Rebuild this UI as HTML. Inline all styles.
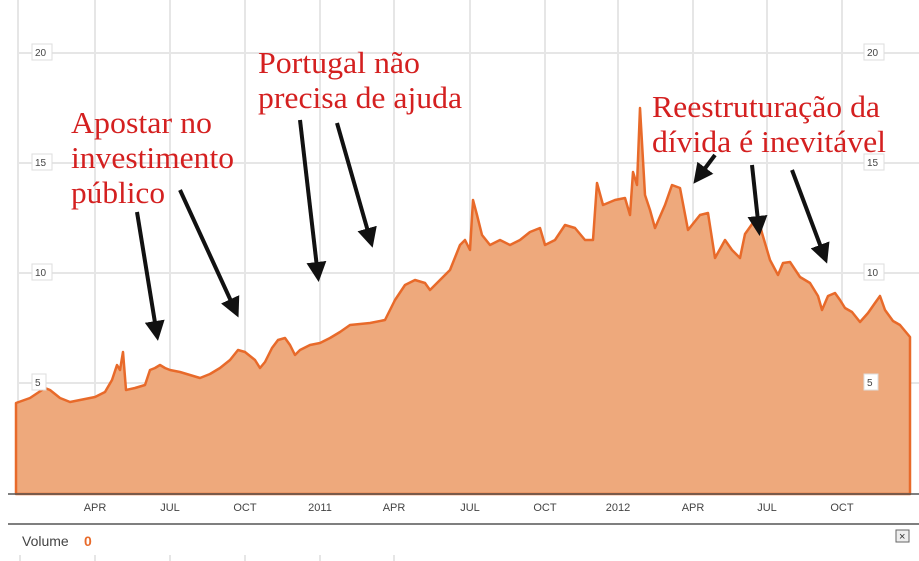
<!DOCTYPE html>
<html><head><meta charset="utf-8"><style>
html,body{margin:0;padding:0;background:#fff;}
svg{display:block;}
</style></head><body>
<svg width="919" height="561" xmlns="http://www.w3.org/2000/svg">
<defs><marker id="ah" markerWidth="5" markerHeight="5" refX="3.5" refY="2.5" orient="auto" markerUnits="strokeWidth"><path d="M0,0 L5,2.5 L0,5 z" fill="#111"/></marker></defs>
<g stroke="#e6e6e6" stroke-width="2">
<line x1="18" y1="53" x2="919" y2="53"/><line x1="18" y1="163" x2="919" y2="163"/><line x1="18" y1="273" x2="919" y2="273"/><line x1="18" y1="383" x2="919" y2="383"/>
<line x1="18" y1="0" x2="18" y2="494"/><line x1="95" y1="0" x2="95" y2="494"/><line x1="170" y1="0" x2="170" y2="494"/><line x1="245" y1="0" x2="245" y2="494"/><line x1="320" y1="0" x2="320" y2="494"/><line x1="394" y1="0" x2="394" y2="494"/><line x1="470" y1="0" x2="470" y2="494"/><line x1="545" y1="0" x2="545" y2="494"/><line x1="618" y1="0" x2="618" y2="494"/><line x1="693" y1="0" x2="693" y2="494"/><line x1="767" y1="0" x2="767" y2="494"/><line x1="842" y1="0" x2="842" y2="494"/>
</g>
<path d="M16,403 L30,398 L45,388 L50,390 L60,398 L70,402 L80,400 L95,397 L105,392 L112,380 L117,365 L120,370 L123,352 L126,390 L135,388 L145,385 L150,370 L155,368 L160,365 L165,368 L170,370 L180,372 L190,375 L200,378 L210,374 L220,368 L230,360 L238,350 L245,352 L255,360 L260,368 L265,362 L272,348 L278,340 L285,338 L290,345 L295,355 L300,350 L310,345 L320,343 L330,338 L340,332 L350,325 L360,324 L370,323 L385,320 L395,300 L405,285 L415,280 L425,283 L430,290 L440,280 L450,270 L460,245 L465,240 L470,250 L473,200 L477,215 L482,235 L490,245 L500,240 L510,245 L520,240 L530,232 L540,228 L545,245 L555,240 L565,225 L575,228 L585,240 L593,240 L597,183 L603,205 L615,200 L625,198 L630,215 L633,172 L637,185 L640,108 L645,195 L650,210 L655,228 L665,205 L672,185 L680,188 L688,230 L700,215 L708,213 L715,258 L725,240 L732,250 L740,258 L745,234 L755,220 L760,225 L762,233 L770,260 L778,275 L783,263 L790,262 L800,277 L810,283 L818,296 L822,310 L828,296 L835,293 L840,300 L845,308 L852,312 L860,322 L868,313 L875,303 L880,296 L885,310 L893,321 L900,325 L910,337 L910,494 L16,494 Z" fill="#eea97c" stroke="#e86a2a" stroke-width="2.5" stroke-linejoin="round"/>
<line x1="8" y1="494" x2="919" y2="494" stroke="#555" stroke-width="1.5"/>
<line x1="8" y1="524" x2="919" y2="524" stroke="#555" stroke-width="1.5"/>
<g font-family="Liberation Sans, sans-serif" font-size="10" fill="#444">
<rect x="32" y="44" width="20" height="16" fill="#fff" stroke="#ddd"/><text x="35" y="56">20</text>
<rect x="32" y="154" width="20" height="16" fill="#fff" stroke="#ddd"/><text x="35" y="166">15</text>
<rect x="32" y="264" width="20" height="16" fill="#fff" stroke="#ddd"/><text x="35" y="276">10</text>
<rect x="32" y="374" width="14" height="16" fill="#fff" stroke="#ddd"/><text x="35" y="386">5</text>
<rect x="864" y="44" width="20" height="16" fill="#fff" stroke="#ddd"/><text x="867" y="56">20</text>
<rect x="864" y="154" width="20" height="16" fill="#fff" stroke="#ddd"/><text x="867" y="166">15</text>
<rect x="864" y="264" width="20" height="16" fill="#fff" stroke="#ddd"/><text x="867" y="276">10</text>
<rect x="864" y="374" width="14" height="16" fill="#fff" stroke="#ddd"/><text x="867" y="386">5</text>
<g text-anchor="middle" font-size="11"><text x="95" y="511">APR</text><text x="170" y="511">JUL</text><text x="245" y="511">OCT</text><text x="320" y="511">2011</text><text x="394" y="511">APR</text><text x="470" y="511">JUL</text><text x="545" y="511">OCT</text><text x="618" y="511">2012</text><text x="693" y="511">APR</text><text x="767" y="511">JUL</text><text x="842" y="511">OCT</text></g>
<text x="22" y="546" font-size="14">Volume</text><text x="84" y="546" font-size="14" font-weight="bold" fill="#e86a2a">0</text>
</g>
<rect x="896" y="530" width="13" height="12" fill="#eee" stroke="#666"/><text x="899" y="540" font-family="Liberation Sans" font-size="11" fill="#333">×</text>
<g stroke="#ccc"><line x1="20" y1="555" x2="20" y2="561"/><line x1="95" y1="555" x2="95" y2="561"/><line x1="170" y1="555" x2="170" y2="561"/><line x1="245" y1="555" x2="245" y2="561"/><line x1="320" y1="555" x2="320" y2="561"/><line x1="394" y1="555" x2="394" y2="561"/></g>
<g stroke="#111" stroke-width="4" marker-end="url(#ah)">
<line x1="137" y1="212" x2="157" y2="335"/>
<line x1="180" y1="190" x2="236" y2="312"/>
<line x1="300" y1="120" x2="318" y2="276"/>
<line x1="337" y1="123" x2="371" y2="242"/>
<line x1="715" y1="155" x2="697" y2="179"/>
<line x1="752" y1="165" x2="759" y2="230"/>
<line x1="792" y1="170" x2="825" y2="258"/>
</g>
<g font-family="Liberation Serif, serif" font-size="31" fill="#d42020">
<text x="71" y="133" textLength="141" lengthAdjust="spacingAndGlyphs">Apostar no</text>
<text x="71" y="168" textLength="163" lengthAdjust="spacingAndGlyphs">investimento</text>
<text x="71" y="203" textLength="94" lengthAdjust="spacingAndGlyphs">público</text>
<text x="258" y="73" textLength="162" lengthAdjust="spacingAndGlyphs">Portugal não</text>
<text x="258" y="108" textLength="204" lengthAdjust="spacingAndGlyphs">precisa de ajuda</text>
<text x="652" y="117" textLength="228" lengthAdjust="spacingAndGlyphs">Reestruturação da</text>
<text x="652" y="152" textLength="234" lengthAdjust="spacingAndGlyphs">dívida é inevitável</text>
</g>
</svg>
</body></html>
